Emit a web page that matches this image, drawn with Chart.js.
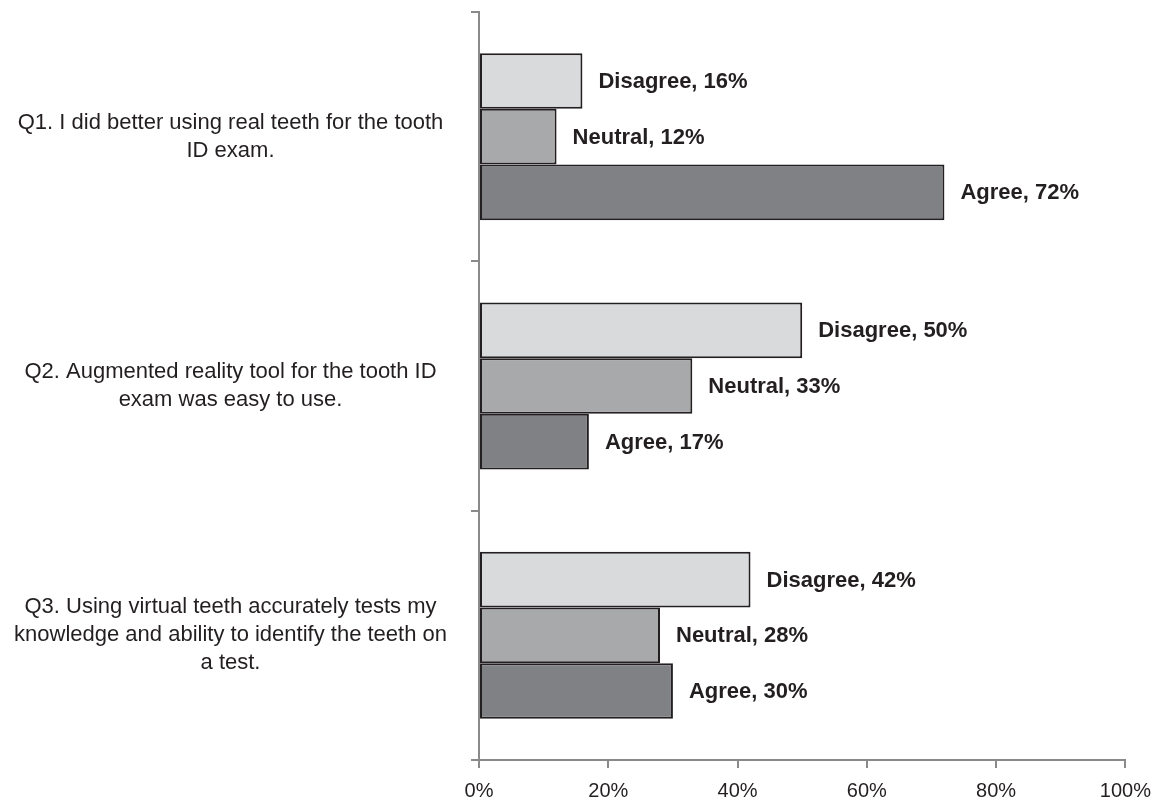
<!DOCTYPE html>
<html>
<head>
<meta charset="utf-8">
<script src="https://cdn.jsdelivr.net/npm/chart.js@4"></script>
<style>
  html, body { margin: 0; padding: 0; background: #fff; }
  #wrap { width: 1162px; height: 800px; }
</style>
</head>
<body>
<div id="wrap"><canvas id="myChart" width="1162" height="800"></canvas></div>
<script>
const questions = [
    ['Q1. I did better using real teeth for the tooth', 'ID exam.'],
    ['Q2. Augmented reality tool for the tooth ID', 'exam was easy to use.'],
    ['Q3. Using virtual teeth accurately tests my', 'knowledge and ability to identify the teeth on', 'a test.']
];
const disagree = [16, 50, 42];
const neutral = [12, 33, 28];
const agree = [72, 17, 30];
const xTicks = [0, 20, 40, 60, 80, 100];

const fontFamily = '"Liberation Sans", Arial, sans-serif';

// writes "Label, NN%" just past the end of each bar
const barLabels = {
    id: 'barLabels',
    afterDatasetsDraw(chart) {
        const ctx = chart.ctx;
        ctx.save();
        ctx.font = 'bold 22px ' + fontFamily;
        ctx.fillStyle = '#231f20';
        ctx.textAlign = 'left';
        ctx.textBaseline = 'middle';
        chart.data.datasets.forEach((ds, i) => {
            chart.getDatasetMeta(i).data.forEach((bar, j) => {
                ctx.fillText(ds.label + ', ' + ds.data[j] + '%', bar.x + 16, bar.y + 1);
            });
        });
        ctx.restore();
    }
};

const ctx = document.getElementById('myChart').getContext('2d');
const myChart = new Chart(ctx, {
    type: 'bar',
    data: {
        labels: questions,
        datasets: [
            { label: 'Disagree', data: disagree, backgroundColor: '#d9dadb' },
            { label: 'Neutral', data: neutral, backgroundColor: '#a7a9ab' },
            { label: 'Agree', data: agree, backgroundColor: '#808184' }
        ]
    },
    options: {
        responsive: false,
        animation: false,
        indexAxis: 'y',
        layout: { padding: { top: 12, right: 36, bottom: 0, left: 0 } },
        datasets: {
            bar: {
                borderColor: '#231f20',
                borderWidth: 2,
                borderSkipped: false,
                categoryPercentage: 0.67,
                barPercentage: 1
            }
        },
        plugins: {
            legend: { display: false },
            tooltip: { enabled: false }
        },
        scales: {
            x: {
                min: 0,
                max: 100,
                afterBuildTicks: axis => { axis.ticks = xTicks.map(v => ({ value: v })); },
                afterFit: axis => { axis.height = 40; },
                border: { color: '#8a8a8a', width: 2 },
                grid: { drawOnChartArea: false, tickLength: 8, color: '#8a8a8a', lineWidth: 2 },
                ticks: {
                    color: '#231f20',
                    padding: 11,
                    font: { family: fontFamily, size: 20 },
                    callback: v => v + '%'
                }
            },
            y: {
                afterFit: axis => {
                    axis.width = 479;
                    axis.paddingTop = 0;
                    axis.paddingBottom = 0;
                },
                border: { color: '#8a8a8a', width: 2 },
                grid: { drawOnChartArea: false, tickLength: 8, color: '#8a8a8a', lineWidth: 2, offset: true },
                ticks: {
                    color: '#231f20',
                    padding: 24,
                    crossAlign: 'center',
                    font: { family: fontFamily, size: 22, lineHeight: 1.27 }
                }
            }
        }
    },
    plugins: [barLabels]
});
</script>
</body>
</html>
